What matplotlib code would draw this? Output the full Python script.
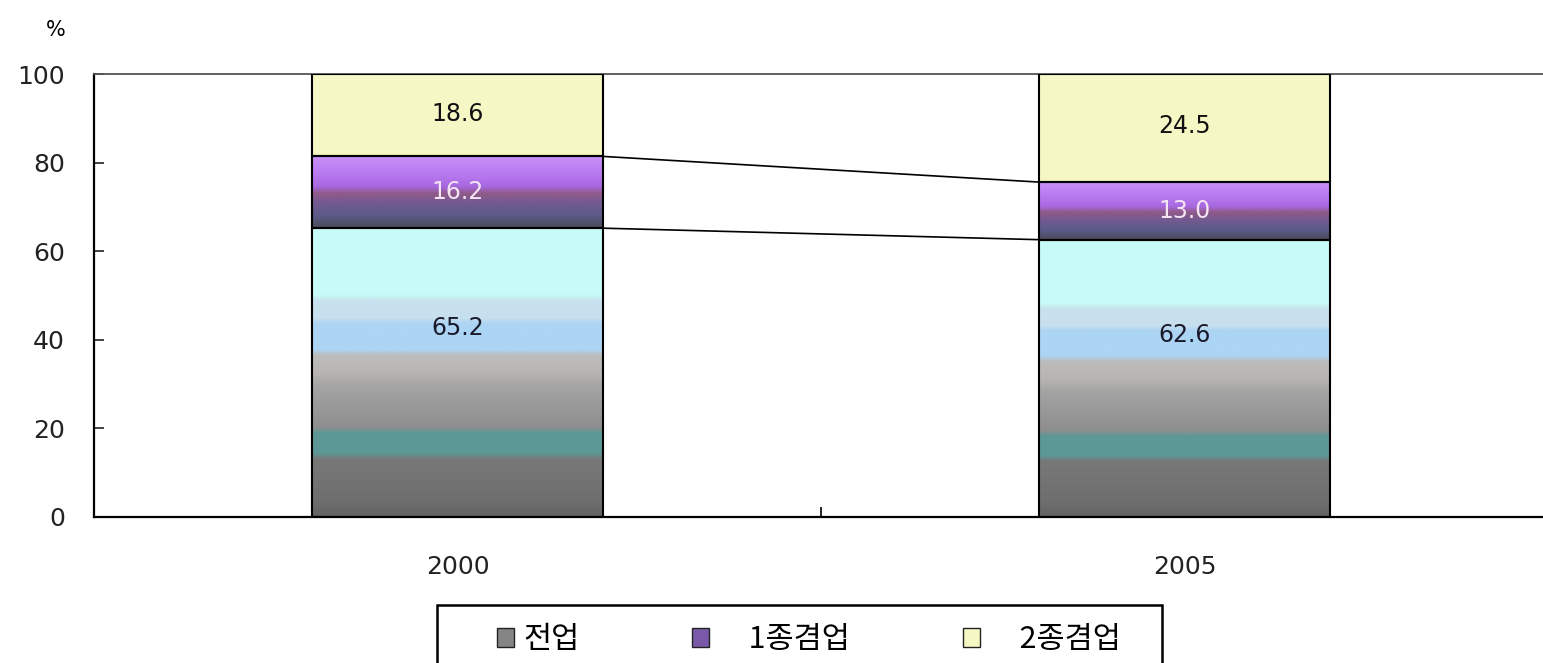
import numpy as np
import matplotlib
matplotlib.use("Agg")
import matplotlib.pyplot as plt
from matplotlib.colors import LinearSegmentedColormap
from matplotlib.patches import Patch, Rectangle

# data
years = ["2000", "2005"]
series = ["전업", "\u30001종겸업", "\u30002종겸업"]
full_time = [65.2, 62.6]
type1 = [16.2, 13.0]
type2 = [18.6, 24.5]
yticks = [0, 20, 40, 60, 80, 100]

# Excel-style banded gradient fills, bottom -> top of each segment
FILL_FULL = [(0.0, "#626262"), (0.05, "#6e6e6e"), (0.20, "#787878"), (0.22, "#5c9896"),
             (0.29, "#5c9896"), (0.31, "#8e8e8e"), (0.45, "#a4a4a4"), (0.50, "#b8b6b2"),
             (0.56, "#bcbcbc"), (0.58, "#acd4f4"), (0.67, "#acd4f4"), (0.69, "#c8e0ee"),
             (0.75, "#c8e2ee"), (0.77, "#c6fbf7"), (1.0, "#c8fcf8")]
FILL_T1 = [(0.0, "#4a4a58"), (0.17, "#5a5a88"), (0.36, "#765a92"), (0.48, "#905a88"),
           (0.58, "#a868e0"), (0.74, "#b878f0"), (1.0, "#c890f8")]
FILL_T2 = [(0.0, "#f5f7c3"), (1.0, "#f6f8c6")]

FONT_NUM = ["DejaVu Sans"]
FONT_KR = ["Noto Sans CJK KR", "DejaVu Sans"]


def shade(ax, bars, stops):
    cmap = LinearSegmentedColormap.from_list("band", stops)
    grad = np.linspace(0, 1, 256).reshape(-1, 1)
    for p in bars:
        ax.imshow(grad, extent=(p.get_x(), p.get_x() + p.get_width(),
                                p.get_y(), p.get_y() + p.get_height()),
                  cmap=cmap, aspect="auto", origin="lower", zorder=2,
                  interpolation="bilinear")


W, H = 1543, 663
fig = plt.figure(figsize=(W / 100, H / 100), dpi=100)
ax = fig.add_axes([94 / W, 1 - 517 / H, (1548 - 94) / W, (517 - 74) / H])

x = np.arange(len(years))
bottom = np.zeros(len(years))
tops = []
layers = [(full_time, FILL_FULL, "#1a1a2a", 0.655),
          (type1, FILL_T1, "#f4e4f4", 0.5),
          (type2, FILL_T2, "#111111", 0.52)]
for vals, stops, tcol, frac in layers:
    vals = np.array(vals)
    bars = ax.bar(x, vals, 0.4, bottom=bottom, facecolor="none",
                  edgecolor="black", linewidth=1.5, zorder=3)
    shade(ax, bars, stops)
    for xi, b, v in zip(x, bottom, vals):
        ax.text(xi, b + v * frac, f"{v:.1f}", ha="center", va="center",
                fontsize=17, color=tcol, family=FONT_NUM, zorder=4)
    bottom = bottom + vals
    tops.append(bottom.copy())

# series lines between the two bars
for lvl in tops[:2]:
    ax.plot([x[0] + 0.2, x[1] - 0.2], lvl, color="black", linewidth=1.2, zorder=3)

ax.set_xlim(-0.5, 1.5)
ax.set_ylim(0, 100)
ax.set_yticks(yticks)
ax.set_yticklabels([str(t) for t in yticks], family=FONT_NUM, fontsize=18)
ax.tick_params(axis="y", direction="in", length=7, width=1.2, pad=21, colors="#222222")
ax.set_xticks(x)
ax.set_xticklabels(years, family=FONT_NUM, fontsize=18)
ax.tick_params(axis="x", which="major", length=0, pad=27, colors="#222222")
ax.set_xticks([0.5], minor=True)
ax.tick_params(axis="x", which="minor", direction="in", length=7, width=1.2)

for s in ("left", "bottom"):
    ax.spines[s].set_linewidth(1.6)
    ax.spines[s].set_color("black")
ax.spines["top"].set_color("#555555")
ax.spines["top"].set_linewidth(1.3)
ax.spines["right"].set_color("#555555")

fig.text(56 / W, 1 - 30 / H, "%", ha="center", va="center", fontsize=15, family=FONT_NUM)

# legend: frame drawn separately so it can run off the bottom edge like the original
fig.patches.append(Rectangle((437 / W, -0.05), (1162 - 437) / W, 0.05 + (663 - 605) / H,
                             transform=fig.transFigure, facecolor="white",
                             edgecolor="black", linewidth=1.8, zorder=0))
handles = [Patch(facecolor="#858585", edgecolor="#222222"),
           Patch(facecolor="#7a5aa8", edgecolor="#222222"),
           Patch(facecolor="#f6f8c4", edgecolor="#222222")]
leg = fig.legend(handles, series, loc="center left", ncol=3,
                 bbox_to_anchor=(497 / W, 1 - 640 / H), frameon=False,
                 prop={"family": FONT_KR, "size": 22}, handlelength=0.55, handleheight=0.55,
                 handletextpad=0.3, columnspacing=3.7, borderpad=0, borderaxespad=0)

fig.savefig("out.png", dpi=100)
